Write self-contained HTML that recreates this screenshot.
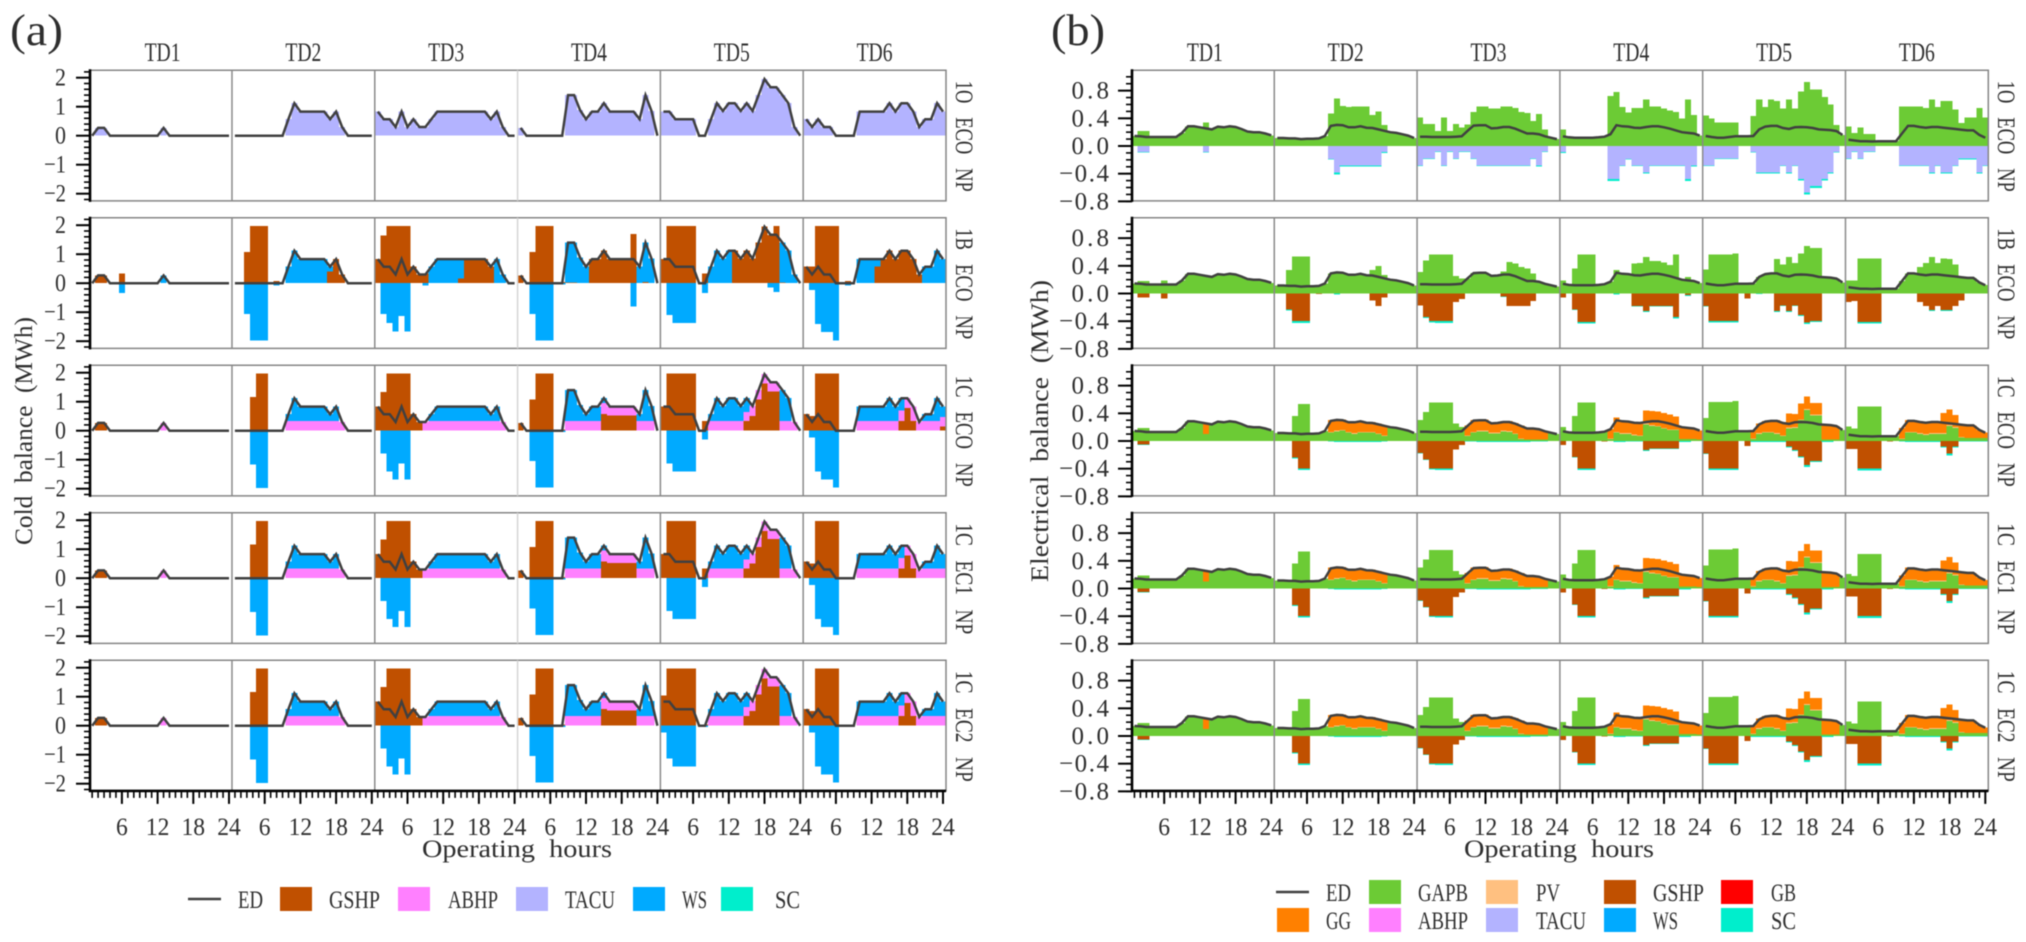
<!DOCTYPE html>
<html lang="en">
<head>
<meta charset="utf-8">
<title>Cold and electrical balance by typical day</title>
<style>
html,body{margin:0;padding:0;background:#fff;width:2026px;height:942px;overflow:hidden}
svg{display:block;filter:blur(.45px)}
text{font-family:"Liberation Serif","Noto Serif CJK SC",serif;fill:#2e2e2e}
</style>
</head>
<body>
<svg id="chart" xmlns="http://www.w3.org/2000/svg" width="2026" height="942" viewBox="0 0 2026 942">
<rect x="0" y="0" width="2026" height="942" fill="#ffffff"/>
<text x="10" y="45" font-size="44" textLength="53" lengthAdjust="spacingAndGlyphs">(a)</text>
<text x="1051" y="45" font-size="44" textLength="54" lengthAdjust="spacingAndGlyphs">(b)</text>
<text x="517" y="857" font-size="25" text-anchor="middle" textLength="190" lengthAdjust="spacingAndGlyphs">Operating&#160;&#160;hours</text>
<text x="1559" y="857" font-size="25" text-anchor="middle" textLength="190" lengthAdjust="spacingAndGlyphs">Operating&#160;&#160;hours</text>
<text transform="translate(32,431) rotate(-90)" font-size="25" text-anchor="middle" textLength="228" lengthAdjust="spacingAndGlyphs">Cold&#160;&#160;balance&#160;&#160;(MWh)</text>
<text transform="translate(1048,431) rotate(-90)" font-size="25" text-anchor="middle" textLength="302" lengthAdjust="spacingAndGlyphs">Electrical&#160;&#160;balance&#160;&#160;(MWh)</text>

<g font-size="25">
<line x1="188" y1="899" x2="221" y2="899" stroke="#404040" stroke-width="2.5"/>
<text x="238" y="908" font-size="25" textLength="25" lengthAdjust="spacingAndGlyphs">ED</text>
<rect x="280" y="887" width="32" height="24" fill="#C05000"/>
<text x="329" y="908" font-size="25" textLength="51" lengthAdjust="spacingAndGlyphs">GSHP</text>
<rect x="398" y="887" width="32" height="24" fill="#FF80FF"/>
<text x="448" y="908" font-size="25" textLength="50" lengthAdjust="spacingAndGlyphs">ABHP</text>
<rect x="516" y="887" width="32" height="24" fill="#B3B3FF"/>
<text x="565" y="908" font-size="25" textLength="50" lengthAdjust="spacingAndGlyphs">TACU</text>
<rect x="633" y="887" width="32" height="24" fill="#00AAFF"/>
<text x="682" y="908" font-size="25" textLength="25" lengthAdjust="spacingAndGlyphs">WS</text>
<rect x="721" y="887" width="32" height="24" fill="#00EECC"/>
<text x="775" y="908" font-size="25" textLength="25" lengthAdjust="spacingAndGlyphs">SC</text>
</g>

<g font-size="25">
<line x1="1276" y1="892" x2="1309" y2="892" stroke="#404040" stroke-width="2.5"/>
<text x="1326" y="901" font-size="25" textLength="25" lengthAdjust="spacingAndGlyphs">ED</text>
<rect x="1277" y="908" width="32" height="24" fill="#FF8000"/>
<text x="1326" y="929" font-size="25" textLength="25" lengthAdjust="spacingAndGlyphs">GG</text>
<rect x="1369" y="880" width="32" height="24" fill="#6CCB35"/>
<text x="1418" y="901" font-size="25" textLength="50" lengthAdjust="spacingAndGlyphs">GAPB</text>
<rect x="1369" y="908" width="32" height="24" fill="#FF80FF"/>
<text x="1418" y="929" font-size="25" textLength="50" lengthAdjust="spacingAndGlyphs">ABHP</text>
<rect x="1486" y="880" width="32" height="24" fill="#FFC080"/>
<text x="1536" y="901" font-size="25" textLength="24" lengthAdjust="spacingAndGlyphs">PV</text>
<rect x="1486" y="908" width="32" height="24" fill="#B3B3FF"/>
<text x="1536" y="929" font-size="25" textLength="50" lengthAdjust="spacingAndGlyphs">TACU</text>
<rect x="1604" y="880" width="32" height="24" fill="#C05000"/>
<text x="1653" y="901" font-size="25" textLength="51" lengthAdjust="spacingAndGlyphs">GSHP</text>
<rect x="1604" y="908" width="32" height="24" fill="#00AAFF"/>
<text x="1653" y="929" font-size="25" textLength="25" lengthAdjust="spacingAndGlyphs">WS</text>
<rect x="1721" y="880" width="32" height="24" fill="#FF0000"/>
<text x="1771" y="901" font-size="25" textLength="25" lengthAdjust="spacingAndGlyphs">GB</text>
<rect x="1721" y="908" width="32" height="24" fill="#00EECC"/>
<text x="1771" y="929" font-size="25" textLength="25" lengthAdjust="spacingAndGlyphs">SC</text>
</g>
</svg>

<script>
// ---------- categories and tick labels ----------
const typicalDays = ['TD1','TD2','TD3','TD4','TD5','TD6'];
const scenarios = ['1O\u00A0\u00A0\u00A0ECO\u00A0\u00A0\u00A0NP','1B\u00A0\u00A0\u00A0ECO\u00A0\u00A0\u00A0NP','1C\u00A0\u00A0\u00A0ECO\u00A0\u00A0\u00A0NP','1C\u00A0\u00A0\u00A0EC1\u00A0\u00A0\u00A0NP','1C\u00A0\u00A0\u00A0EC2\u00A0\u00A0\u00A0NP'];
const hourTickLabels = [6,12,18,24];
const coldYTicks = [-2,-1,0,1,2];
const coldYLabels = ['\u22122','\u22121','0','1','2'];
const elecYTicks = [-0.8,-0.4,0,0.4,0.8];
const elecYLabels = ['\u22120.8','\u22120.4','0.0','0.4','0.8'];

// ---------- cold balance (MWh), one 24-hour list per typical day ----------
const coldEd = [
[0,.27,.27,0,0,0,0,0,0,0,0,0,.27,0,0,0,0,0,0,0,0,0,0,0],
[0,0,0,0,0,0,0,0,0,.58,1.12,.83,.83,.83,.83,.83,.57,.83,.3,0,0,0,0,0],
[.83,.57,.57,.3,.83,.3,.57,.3,.3,.57,.83,.83,.83,.83,.83,.83,.83,.83,.83,.57,.83,.3,0,0],
[.27,0,0,0,0,0,0,0,1.4,1.4,.88,.57,.83,.83,1.12,.83,.83,.83,.83,.83,.57,1.4,.85,0],
[.83,.83,.57,.57,.57,.57,0,0,.57,1.12,.85,1.12,1.12,.85,1.12,.85,1.4,1.95,1.67,1.67,1.4,1.12,.3,0],
[.57,.3,.57,.3,.3,0,0,0,0,.83,.83,.83,.83,.83,1.12,.83,1.12,1.12,.83,.3,.57,.57,1.12,.83]
];
const coldTacuO = [
[0,.27,.27,0,0,0,0,0,0,0,0,0,.27,0,0,0,0,0,0,0,0,0,0,0],
[0,0,0,0,0,0,0,0,0,.58,1.12,.83,.83,.83,.83,.83,.57,.83,.3,0,0,0,0,0],
[.83,.57,.57,.3,.83,.3,.57,.3,.3,.57,.83,.83,.83,.83,.83,.83,.83,.83,.83,.57,.83,.3,0,0],
[.27,0,0,0,0,0,0,0,1.4,1.4,.88,.57,.83,.83,1.12,.83,.83,.83,.83,.83,.57,1.4,.85,0],
[.83,.83,.57,.57,.57,.57,0,0,.57,1.12,.85,1.12,1.12,.85,1.12,.85,1.4,1.95,1.67,1.67,1.4,1.12,.3,0],
[.57,.3,.57,.3,.3,0,0,0,0,.83,.83,.83,.83,.83,1.12,.83,1.12,1.12,.83,.3,.57,.57,1.12,.83]
];
const coldGshpB = [
[0,.27,.27,0,0,.33,0,0,0,0,0,0,0,0,0,0,0,0,0,0,0,0,0,0],
[0,0,1.07,1.97,1.97,1.97,0,.08,0,0,0,0,0,0,0,0,.4,.83,.3,0,0,0,0,0],
[.83,1.64,1.97,1.97,1.97,1.97,.57,.3,.33,0,0,0,0,0,.17,.83,.83,.83,.83,.57,0,0,0,0],
[.27,0,1.07,1.97,1.97,1.97,0,.05,.03,.03,0,0,.83,.83,1.12,.83,.83,.83,.83,1.69,0,.05,0,0],
[.83,1.97,1.97,1.97,1.97,1.97,0,.33,0,0,0,0,1.12,.85,1.12,.85,1.4,1.95,1.67,1.97,.03,0,0,0],
[.57,.57,1.97,1.97,1.97,1.97,0,.08,0,0,0,0,.57,.83,1.12,.83,1.12,1.12,.83,.3,0,0,0,0]
];
const coldWsB = [
[0,0,0,0,0,0,0,0,0,0,0,0,.27,0,0,0,0,0,0,0,0,0,0,0],
[0,0,0,0,0,0,0,0,0,.58,1.12,.83,.83,.83,.83,.83,.17,0,0,0,0,0,0,0],
[0,0,0,0,0,0,0,0,0,.57,.83,.83,.83,.83,.66,0,0,0,0,0,.83,.3,0,0],
[0,0,0,0,0,0,0,0,1.37,1.37,.88,.57,0,0,0,0,0,0,0,0,.57,1.35,.85,0],
[0,0,0,0,0,0,0,0,.57,1.12,.85,1.12,0,0,0,0,0,0,0,0,1.37,1.12,.3,0],
[0,0,0,0,0,0,0,0,0,.83,.83,.83,.26,0,0,0,0,0,0,0,.57,.57,1.12,.83]
];
const coldChargeB = [
[0,0,0,0,0,-.33,0,0,0,0,0,0,0,0,0,0,0,0,0,0,0,0,0,0],
[0,0,-1.07,-1.97,-1.97,-1.97,0,-.08,0,0,0,0,0,0,0,0,0,0,0,0,0,0,0,0],
[0,-1.06,-1.38,-1.67,-1.13,-1.67,0,0,-.08,0,0,0,0,0,0,0,0,0,0,0,0,0,0,0],
[0,0,-1.06,-1.97,-1.97,-1.97,0,-.05,0,0,0,0,0,0,0,0,0,0,0,-.81,0,0,0,0],
[0,-1.1,-1.38,-1.38,-1.38,-1.38,0,-.33,0,0,0,0,0,0,0,0,0,0,-.15,-.3,0,0,0,0],
[0,-.23,-1.41,-1.69,-1.69,-1.97,0,-.08,0,0,0,0,0,0,0,0,0,0,0,0,0,0,0,0]
];
const coldGshpC = [
[0,.27,.27,0,0,0,0,0,0,0,0,0,0,0,0,0,0,0,0,0,0,0,0,0],
[0,0,0,1.17,1.97,1.97,0,0,0,0,0,0,0,0,0,0,0,0,0,0,0,0,0,0],
[.83,1.33,1.97,1.97,1.97,1.97,.57,.3,0,0,0,0,0,0,0,0,0,0,0,0,0,0,0,0],
[.27,0,1.08,1.97,1.97,1.97,0,.05,0,0,0,0,0,0,.57,.52,.52,.52,.52,.52,0,0,0,0],
[.83,1.97,1.97,1.97,1.97,1.97,0,.33,0,0,0,0,0,0,.33,.5,1.08,1.63,1.35,1.35,0,0,0,0],
[.57,.5,1.97,1.97,1.97,1.97,0,.05,0,0,0,0,0,0,0,0,.33,.78,.33,0,0,0,0,.15]
];
const coldAbhpC = [
[0,0,0,0,0,0,0,0,0,0,0,0,.27,0,0,0,0,0,0,0,0,0,0,0],
[0,0,0,0,0,0,0,0,0,.33,.33,.33,.33,.33,.33,.33,.33,.33,.3,0,0,0,0,0],
[0,0,0,0,0,0,0,0,.3,.33,.33,.33,.33,.33,.33,.33,.33,.33,.33,.33,.33,.3,0,0],
[0,0,0,0,0,0,0,0,.33,.33,.33,.33,.33,.33,.38,.31,.31,.31,.31,.31,.33,.33,.33,0],
[0,0,0,0,0,0,0,0,.33,.33,.33,.33,.33,.33,.32,.35,.32,.32,.32,.32,.33,.33,.3,0],
[0,0,0,0,0,0,0,0,0,.33,.33,.33,.33,.33,.33,.33,.37,.34,.5,.3,.33,.33,.33,.33]
];
const coldWsC = [
[0,0,0,0,0,0,0,0,0,0,0,0,0,0,0,0,0,0,0,0,0,0,0,0],
[0,0,0,0,0,0,0,0,0,.25,.79,.5,.5,.5,.5,.5,.24,.5,0,0,0,0,0,0],
[0,0,0,0,0,0,0,0,0,.24,.5,.5,.5,.5,.5,.5,.5,.5,.5,.24,.5,0,0,0],
[0,0,0,0,0,0,0,0,1.07,1.07,.55,.24,.5,.5,.17,0,0,0,0,0,.24,1.07,.52,0],
[0,0,0,0,0,0,0,0,.24,.79,.52,.79,.79,.52,.47,0,0,0,0,0,1.07,.79,0,0],
[0,0,0,0,0,0,0,0,0,.5,.5,.5,.5,.5,.79,.5,.42,0,0,0,.24,.24,.79,.35]
];
const coldChargeC = [
[0,0,0,0,0,0,0,0,0,0,0,0,0,0,0,0,0,0,0,0,0,0,0,0],
[0,0,0,-1.17,-1.97,-1.97,0,0,0,0,0,0,0,0,0,0,0,0,0,0,0,0,0,0],
[0,-.78,-1.41,-1.69,-1.13,-1.69,0,0,0,0,0,0,0,0,0,0,0,0,0,0,0,0,0,0],
[0,0,-1.05,-1.95,-1.95,-1.95,0,-.05,0,0,0,0,0,0,0,0,0,0,0,0,0,0,0,0],
[0,-1.13,-1.4,-1.4,-1.4,-1.4,0,-.3,0,0,0,0,0,0,0,0,0,0,0,0,0,0,0,0],
[0,-.23,-1.4,-1.68,-1.68,-1.95,0,-.05,0,0,0,0,0,0,0,0,0,0,0,0,0,0,0,0]
];
// scenario-specific single-day variants
const coldGshpTd6Ec1 = [.57,.5,1.97,1.97,1.97,1.97,0,.05,0,0,0,0,0,0,0,0,.33,.78,.33,0,0,0,0,0];
const coldWsTd6Ec1 = [0,0,0,0,0,0,0,0,0,.5,.5,.5,.5,.5,.79,.5,.42,0,0,0,.24,.24,.79,.5];
const coldGshpTd5Ec2 = [1.05,1.97,1.97,1.97,1.97,1.97,0,.05,0,0,0,0,0,0,.33,.5,1.08,1.63,1.35,1.35,0,0,0,0];
const coldChargeTd5Ec2 = [-.24,-1.13,-1.4,-1.4,-1.4,-1.4,0,-.05,0,0,0,0,0,0,0,0,0,0,0,0,0,0,0,0];

// ---------- electrical balance (MWh), one 24-hour list per typical day ----------
const elecEd = [
[.145,.14,.13,.13,.13,.13,.13,.13,.19,.285,.285,.27,.255,.24,.28,.27,.285,.275,.245,.21,.2,.2,.18,.155],
[.115,.115,.11,.11,.1,.105,.105,.11,.145,.29,.305,.3,.27,.27,.285,.265,.26,.24,.22,.2,.19,.17,.15,.115],
[.135,.135,.13,.13,.13,.13,.135,.14,.22,.295,.3,.3,.255,.26,.275,.275,.25,.215,.18,.18,.17,.14,.12,.1],
[.14,.125,.12,.12,.12,.12,.125,.135,.17,.3,.285,.28,.265,.26,.275,.285,.285,.27,.25,.225,.2,.19,.18,.15],
[.145,.13,.12,.12,.13,.14,.14,.14,.145,.24,.28,.29,.29,.26,.245,.27,.275,.27,.26,.24,.235,.23,.215,.16],
[.09,.08,.07,.07,.065,.07,.07,.07,.07,.18,.29,.29,.275,.265,.275,.275,.265,.255,.245,.235,.225,.225,.16,.12]
];
const elecGapbA = [
[.145,.22,.22,.13,.13,.13,.13,.13,.19,.285,.285,.27,.34,.24,.28,.27,.285,.275,.245,.21,.2,.2,.18,.155],
[.115,.115,.11,.11,.1,.105,.105,.11,.145,.47,.69,.58,.56,.57,.57,.57,.45,.5,.3,.2,.19,.17,.15,.115],
[.41,.32,.32,.215,.41,.215,.32,.27,.31,.49,.57,.57,.54,.54,.57,.57,.55,.49,.48,.36,.46,.24,.12,.1],
[.235,.125,.12,.12,.12,.12,.125,.135,.72,.78,.565,.485,.55,.55,.67,.57,.57,.54,.51,.49,.4,.67,.445,.15],
[.44,.4,.34,.34,.34,.34,.14,.14,.43,.67,.565,.67,.65,.54,.67,.54,.785,.925,.82,.82,.71,.6,.3,.16],
[.28,.19,.265,.17,.17,.07,.07,.07,.07,.57,.57,.57,.57,.55,.67,.56,.65,.65,.53,.33,.41,.41,.55,.41]
];
const elecTacuA = [
[0,-.09,-.09,0,0,0,0,0,0,0,0,0,-.09,0,0,0,0,0,0,0,0,0,0,0],
[0,0,0,0,0,0,0,0,0,-.19,-.385,-.285,-.285,-.285,-.285,-.285,-.285,-.285,-.09,0,0,0,0,0],
[-.28,-.18,-.18,-.08,-.28,-.08,-.18,-.08,-.08,-.18,-.28,-.28,-.28,-.28,-.28,-.28,-.28,-.28,-.28,-.18,-.28,-.08,0,0],
[-.09,0,0,0,0,0,0,0,-.48,-.48,-.28,-.19,-.28,-.28,-.38,-.28,-.28,-.28,-.28,-.28,-.28,-.48,-.28,0],
[-.28,-.28,-.18,-.18,-.18,-.18,0,0,-.09,-.38,-.38,-.38,-.38,-.28,-.38,-.28,-.48,-.67,-.58,-.58,-.48,-.38,-.09,0],
[-.18,-.08,-.18,-.08,-.08,0,0,0,0,-.28,-.28,-.28,-.28,-.28,-.38,-.28,-.38,-.38,-.28,-.18,-.18,-.18,-.38,-.28]
];
const elecScA = [
[0,.006,.006,0,0,0,0,0,0,0,0,0,.006,0,0,0,0,0,0,0,0,0,0,0],
[0,0,0,0,0,0,0,0,0,.008,.025,.008,.008,.008,.008,.008,.008,.014,.008,0,0,0,0,0],
[.01,.008,.008,.006,.01,.006,.008,.006,.006,.008,.012,.012,.012,.012,.012,.012,.012,.012,.012,.01,.016,.006,0,0],
[.008,0,0,0,0,0,0,0,.025,.025,.008,.008,.01,.01,.016,.01,.01,.01,.01,.01,.01,.025,.016,0],
[.01,.01,.008,.008,.008,.008,0,0,.006,.016,.016,.016,.016,.01,.016,.01,.016,.03,.024,.024,.016,.016,.006,0],
[.008,.006,.008,.006,.006,0,0,0,0,.012,.012,.012,.012,.012,.016,.012,.016,.016,.012,.012,.012,.012,.016,.012]
];
const elecGapbB = [
[.145,.18,.18,.13,.13,.19,.13,.13,.19,.285,.285,.27,.255,.24,.28,.27,.285,.275,.245,.21,.2,.2,.18,.155],
[.115,.115,.34,.535,.535,.535,.105,.11,.145,.29,.305,.3,.27,.27,.285,.265,.34,.4,.265,.2,.19,.17,.15,.115],
[.31,.48,.56,.56,.56,.56,.25,.215,.22,.295,.3,.3,.255,.26,.32,.457,.43,.385,.36,.29,.17,.14,.12,.1],
[.19,.125,.36,.565,.565,.565,.125,.135,.17,.34,.285,.28,.43,.44,.53,.47,.47,.45,.41,.565,.2,.235,.18,.15],
[.35,.565,.565,.565,.565,.58,.14,.14,.145,.24,.28,.29,.5,.42,.53,.44,.58,.69,.66,.66,.235,.23,.215,.16],
[.19,.19,.505,.505,.505,.505,.07,.07,.07,.18,.29,.29,.385,.44,.53,.44,.505,.5,.42,.235,.225,.225,.16,.12]
];
const elecGshpB = [
[0,-.06,-.06,0,0,-.07,0,0,0,0,0,0,0,0,0,0,0,0,0,0,0,0,0,0],
[0,0,-.23,-.4,-.4,-.4,0,-.01,0,0,0,0,0,0,0,0,-.1,-.18,-.06,0,0,0,0,0],
[-.17,-.34,-.4,-.4,-.4,-.4,-.12,-.08,0,0,0,0,0,0,-.04,-.18,-.18,-.18,-.18,-.11,0,0,0,0],
[-.06,0,-.23,-.41,-.41,-.41,0,0,0,0,0,0,-.18,-.18,-.25,-.18,-.18,-.18,-.18,-.34,0,-.02,0,0],
[-.18,-.4,-.4,-.4,-.4,-.4,0,-.07,0,0,0,0,-.25,-.17,-.25,-.17,-.31,-.42,-.4,-.4,0,0,0,0],
[-.12,-.11,-.41,-.41,-.41,-.41,0,0,0,0,0,0,-.12,-.18,-.24,-.18,-.24,-.24,-.18,-.1,0,0,0,0]
];
const elecScB = [
[0,0,0,0,0,0,0,0,0,0,0,0,0,0,0,0,0,0,0,0,0,0,0,0],
[0,0,.014,.026,.026,.026,0,0,0,0,.012,0,0,0,0,0,0,0,0,0,0,0,0,0],
[0,.014,.018,.026,.026,.026,0,0,0,0,0,0,0,0,.012,0,0,0,0,0,0,0,0,0],
[0,0,.008,.026,.026,.026,0,0,0,.014,0,0,.01,.01,.014,.01,.01,.01,.01,.018,0,.014,0,0],
[.008,.016,.016,.016,.016,.016,0,0,0,.01,0,0,.014,.01,.014,.01,.014,.024,.014,.014,0,0,0,0],
[0,0,.026,.026,.026,.026,0,0,0,0,0,0,0,0,.012,0,.012,.012,0,0,0,0,0,0]
];
const elecGapbC = [
[.145,.19,.19,.13,.13,.13,.13,.13,.19,.285,.285,.27,.1,.24,.28,.27,.285,.275,.245,.21,.2,.2,.18,.155],
[.115,.115,.11,.36,.535,.535,.105,.11,.145,.12,.14,.15,.12,.1,.12,.12,.12,.1,.07,.2,.19,.17,.15,.115],
[.3,.42,.555,.555,.555,.555,.255,.2,.07,.12,.14,.14,.11,.11,.14,.13,.1,.03,.02,.02,.02,.02,.12,.1],
[.2,.125,.36,.555,.555,.555,.125,.135,.03,.12,.1,.1,.08,.07,.24,.22,.21,.18,.16,.16,.03,.03,.03,.02],
[.335,.56,.56,.56,.56,.58,.14,.14,.03,.1,.12,.12,.1,.07,.18,.19,.3,.45,.37,.37,.02,.02,.02,.16],
[.21,.18,.495,.495,.495,.495,.07,.07,.07,.03,.12,.12,.1,.09,.1,.1,.1,.22,.19,.05,.04,.04,.04,.04]
];
const elecPvC = [
[0,0,0,0,0,0,0,0,0,0,0,0,0,0,0,0,0,0,0,0,0,0,0,0],
[0,0,0,0,0,0,0,0,0,.01,.012,.012,.012,.012,.012,.012,.012,.01,.008,0,0,0,0,0],
[0,0,0,0,0,0,0,0,.006,.012,.012,.012,.012,.012,.012,.012,.01,.006,0,0,0,0,0,0],
[0,0,0,0,0,0,0,0,.006,.012,.012,.012,.012,.012,.01,.01,.01,.008,.008,.006,0,0,0,0],
[0,0,0,0,0,0,0,0,.006,.012,.012,.012,.012,.012,.012,.012,.012,.012,.01,.01,0,0,0,0],
[0,0,0,0,0,0,0,0,0,.006,.012,.012,.012,.012,.012,.012,.012,.012,.012,.006,0,0,0,0]
];
const elecGgC = [
[0,0,0,0,0,0,0,0,0,0,0,0,.15,0,0,0,0,0,0,0,0,0,0,0],
[0,0,0,0,0,0,0,0,0,.17,.165,.15,.15,.17,.165,.145,.14,.14,.14,0,0,0,0,0],
[0,0,0,0,0,0,0,0,.15,.175,.16,.16,.145,.15,.135,.145,.15,.185,.16,.16,.15,.12,0,0],
[0,0,0,0,0,0,0,0,.14,.21,.185,.18,.185,.19,.19,.2,.205,.22,.215,.19,.17,.16,.15,.13],
[0,0,0,0,0,0,0,0,.115,.14,.16,.17,.19,.19,.205,.19,.23,.18,.17,.17,.215,.21,.195,0],
[0,0,0,0,0,0,0,0,0,.15,.17,.17,.175,.175,.175,.175,.29,.22,.175,.185,.185,.185,.12,.08]
];
const elecGshpC = [
[0,-.05,-.05,0,0,0,0,0,0,0,0,0,0,0,0,0,0,0,0,0,0,0,0,0],
[0,0,0,-.24,-.395,-.395,0,0,0,0,0,0,0,0,0,0,0,0,0,0,0,0,0,0],
[-.17,-.27,-.395,-.395,-.395,-.395,-.12,-.06,0,0,0,0,0,0,0,0,0,0,0,0,0,0,0,0],
[-.06,0,-.23,-.395,-.395,-.395,0,-.01,0,0,0,0,0,0,-.13,-.105,-.105,-.105,-.105,-.105,0,0,0,0],
[-.18,-.395,-.395,-.395,-.395,-.395,0,-.07,0,0,0,0,0,0,-.08,-.13,-.225,-.35,-.29,-.29,0,0,0,0],
[-.115,-.115,-.4,-.4,-.4,-.4,0,-.01,0,0,0,0,0,0,0,0,-.08,-.18,-.08,0,0,0,0,0]
];
const elecScC = [
[0,.006,.006,0,0,0,0,0,0,0,0,0,0,0,0,0,0,0,0,0,0,0,0,0],
[0,0,0,.014,.026,.026,0,0,0,.008,.014,.014,.014,.014,.014,.014,.014,.014,.008,0,0,0,0,0],
[.008,.008,.018,.026,.026,.026,0,0,.008,.01,.012,.014,.014,.014,.014,.014,.012,.012,.012,.01,.008,.008,0,0],
[0,0,.008,.026,.026,.026,0,0,0,.014,.014,.01,.01,.01,.014,.01,.01,.01,.01,.01,.014,.014,0,0],
[.008,.026,.026,.026,.026,.026,0,0,.014,.014,.014,.014,.014,.014,.014,.014,.014,.026,.014,.014,.014,.014,0,0],
[0,0,.026,.026,.026,.026,0,0,0,.01,.014,.014,.014,.014,.014,.014,.014,.026,.014,.01,.01,.01,.01,.01]
];

// ---------- colours ----------
const GSHP = '#C05000', ABHP = '#FF80FF', TACU = '#B3B3FF', WS = '#00AAFF', SC = '#00EECC',
      GAPB = '#6CCB35', GG = '#FF8000', PV = '#FFC080';

// ---------- scenario wiring: per-row stacks ----------
const swap = (list, day, values) => list.map((d, i) => i === day ? values : d);
const coldRows = [
  {up: [[coldTacuO, TACU, 'tacu']], down: []},
  {up: [[coldGshpB, GSHP, 'gshp'], [coldWsB, WS, 'ws']], down: [[coldChargeB, WS, 'ws-charge']]},
  {up: [[coldGshpC, GSHP, 'gshp'], [coldAbhpC, ABHP, 'abhp'], [coldWsC, WS, 'ws']], down: [[coldChargeC, WS, 'ws-charge']]},
  {up: [[swap(coldGshpC, 5, coldGshpTd6Ec1), GSHP, 'gshp'], [coldAbhpC, ABHP, 'abhp'], [swap(coldWsC, 5, coldWsTd6Ec1), WS, 'ws']], down: [[coldChargeC, WS, 'ws-charge']]},
  {up: [[swap(swap(coldGshpC, 4, coldGshpTd5Ec2), 5, coldGshpTd6Ec1), GSHP, 'gshp'], [coldAbhpC, ABHP, 'abhp'], [swap(coldWsC, 5, coldWsTd6Ec1), WS, 'ws']], down: [[swap(coldChargeC, 4, coldChargeTd5Ec2), WS, 'ws-charge']]}
];
const elecRowsC = {up: [[elecGapbC, GAPB, 'gapb'], [elecPvC, PV, 'pv'], [elecGgC, GG, 'gg']], down: [[elecGshpC, GSHP, 'gshp'], [elecScC, SC, 'sc']]};
const elecRows = [
  {up: [[elecGapbA, GAPB, 'gapb']], down: [[elecTacuA, TACU, 'tacu'], [elecScA, SC, 'sc']]},
  {up: [[elecGapbB, GAPB, 'gapb']], down: [[elecGshpB, GSHP, 'gshp'], [elecScB, SC, 'sc']]},
  elecRowsC, elecRowsC, elecRowsC
];

// ---------- panels and axis functions ----------
const rowTop = r => 70.3 + 147.5 * r;
const rowHeight = 130.6;
const panels = [
  {key: 'cold', x0: 86.2, zero: 65.4, unit: 29, rows: coldRows, ed: coldEd, ticks: coldYTicks, labels: coldYLabels,
   minorStep: .2, minorFrom: -2.2, minorCount: 23, right: 946, axisX: 90, stripX: 956, labelRight: 66},
  {key: 'elec', x0: 1128.5, zero: 75.7, unit: 69.2, rows: elecRows, ed: elecEd, ticks: elecYTicks, labels: elecYLabels,
   minorStep: .1, minorFrom: -.8, minorCount: 19, right: 1988.3, axisX: 1132, stripX: 1998, labelRight: 1109}
];
const dayWidth = 142.8, hourWidth = 5.95;
const xScale = (p, day, hour) => p.x0 + day * dayWidth + hour * hourWidth;
const yScale = (p, row, v) => rowTop(row) + p.zero - v * p.unit;

const svg = document.getElementById('chart');
const NS = 'http://www.w3.org/2000/svg';
function make(tag, attrs, parent) {
  const node = document.createElementNS(NS, tag);
  for (const k in attrs) node.setAttribute(k, attrs[k]);
  (parent || svg).appendChild(node);
  return node;
}
function label(txt, x, y, len, anchor, size, parent, rotate, adjust) {
  const attrs = {'font-size': size, 'text-anchor': anchor, textLength: len, lengthAdjust: adjust || 'spacingAndGlyphs'};
  if (rotate) attrs.transform = 'translate(' + x + ',' + y + ') rotate(90)';
  else { attrs.x = x; attrs.y = y; }
  const t = make('text', attrs, parent);
  t.textContent = txt;
  return t;
}

panels.forEach(p => {
  const panelGroup = make('g', {});
  
  

  typicalDays.forEach((name, day) => {
    const mid = (xScale(p, day, .5) + xScale(p, day, 24.5)) / 2 + (day === 0 ? 2 : 0);
    const head = label(name, mid, 61, 36, 'middle', 26, panelGroup);
    
    
  });

  p.rows.forEach((row, r) => {
    const rowGroup = make('g', {}, panelGroup);
    
    

    // stacked bars
    for (let day = 0; day < 6; day++) {
      for (let h = 1; h <= 24; h++) {
        let base = 0;
        row.up.forEach(s => {
          const v = s[0][day][h - 1];
          if (v > 0) {
            const bar = make('rect', {x: xScale(p, day, h - .5), width: hourWidth + .15,
              y: yScale(p, r, base + v), height: v * p.unit, fill: s[1], 'shape-rendering': 'crispEdges'}, rowGroup);
            
            
            base += v;
          }
        });
        let low = 0;
        row.down.forEach(s => {
          const raw = s[0][day][h - 1];
          const v = Math.abs(raw);
          if (v > 0) {
            const bar = make('rect', {x: xScale(p, day, h - .5), width: hourWidth + .15,
              y: yScale(p, r, low), height: v * p.unit, fill: s[1], 'shape-rendering': 'crispEdges'}, rowGroup);
            
            
            low -= v;
          }
        });
      }
    }

    // frame: top/right/bottom and day separators
    const top = rowTop(r), bottom = top + rowHeight;
    const frame = make('path', {d: 'M' + p.axisX + ' ' + top + 'H' + p.right + 'V' + bottom + 'H' + p.axisX,
      fill: 'none', stroke: '#858585', 'stroke-width': 1.5}, rowGroup);
    
    
    for (let day = 1; day < 6; day++) {
      const sx = xScale(p, day - 1, 24.5);
      const sep = make('line', {x1: sx, x2: sx, y1: top, y2: bottom,
        stroke: (p.key === 'cold' && day === 3) ? '#d4d4d4' : '#8a8a8a', 'stroke-width': 1.5}, rowGroup);
      
      
    }

    // ED line
    for (let day = 0; day < 6; day++) {
      const pts = p.ed[day].map((v, i) => xScale(p, day, i + 1).toFixed(1) + ',' + yScale(p, r, v).toFixed(1)).join(' ');
      const line = make('polyline', {points: pts, fill: 'none', stroke: '#404040', 'stroke-width': 2.5, 'stroke-linejoin': 'miter'}, rowGroup);
      
      
    }

    // y axis
    const axis = make('line', {x1: p.axisX, x2: p.axisX, y1: top - 1, y2: bottom + 1, stroke: '#000', 'stroke-width': 2.6}, rowGroup);
    
    
    for (let i = 0; i < p.minorCount; i++) {
      const v = p.minorFrom + i * p.minorStep;
      const my = yScale(p, r, v);
      const minor = make('line', {x1: p.axisX - 6, x2: p.axisX, y1: my, y2: my, stroke: '#000', 'stroke-width': 1.6}, rowGroup);
      
      
    }
    p.ticks.forEach((v, i) => {
      const ty = yScale(p, r, v);
      const major = make('line', {x1: p.axisX - 14, x2: p.axisX, y1: ty, y2: ty, stroke: '#000', 'stroke-width': 2}, rowGroup);
      
      
      const txt = p.labels[i];
      const lab = label(txt, p.labelRight, ty + 8, txt.length * (p.key === 'cold' ? 11 : 12.5), 'end', 25, rowGroup, false, p.key === 'elec' ? 'spacing' : 'spacingAndGlyphs');
      
      
    });

    // strip label
    const strip = label(scenarios[r], p.stripX, top + 66, 111, 'middle', 25, rowGroup, true);
    
    
  });

  // x axis on the bottom row
  const bottomY = rowTop(4) + rowHeight;
  const xAxis = make('line', {x1: p.axisX - 1, x2: p.right, y1: bottomY, y2: bottomY, stroke: '#000', 'stroke-width': 2.6}, panelGroup);
  
  
  for (let day = 0; day < 6; day++) {
    for (let h = 1; h <= 24; h++) {
      const tx = xScale(p, day, h);
      const isMajor = hourTickLabels.includes(h);
      const tick = make('line', {x1: tx, x2: tx, y1: bottomY, y2: bottomY + (isMajor ? 13 : 7), stroke: '#000', 'stroke-width': isMajor ? 2 : 1.6}, panelGroup);
      
      
    }
    hourTickLabels.forEach(h => {
      const txt = String(h);
      const lab = label(txt, xScale(p, day, h), 835, txt.length * 11.8, 'middle', 25, panelGroup);
      
      
    });
  }
});
</script>
</body>
</html>
